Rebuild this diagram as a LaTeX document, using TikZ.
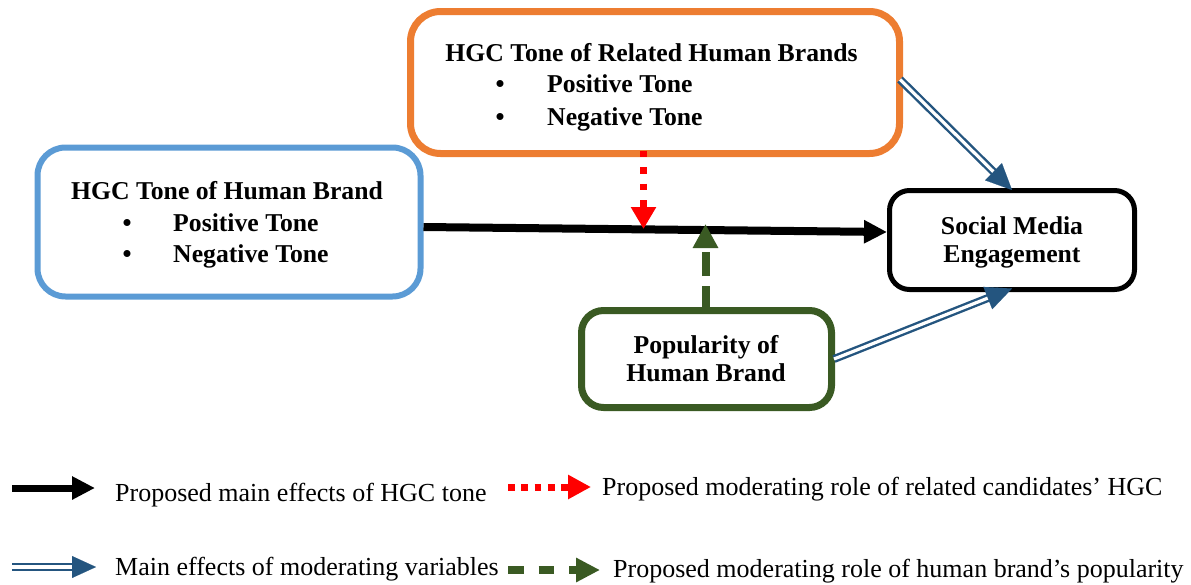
\documentclass[tikz,border=0pt]{standalone}
\usepackage{fontspec}
\setmainfont{Liberation Serif}
\usetikzlibrary{arrows.meta,calc}
\definecolor{cblue}{HTML}{5B9BD5}
\definecolor{corange}{HTML}{ED7D31}
\definecolor{cgreen}{HTML}{3A5A23}
\definecolor{cnavy}{HTML}{24557F}
\begin{document}
\begin{tikzpicture}[x=1pt,y=-1pt,
  box/.style={draw, fill=white, inner sep=0pt},
  hd/.style={inner sep=0pt, font=\bfseries\fontsize{25.7}{31}\selectfont},
  lg/.style={inner sep=0pt, anchor=base west, font=\fontsize{26}{31}\selectfont},
  mainarrow/.style={draw=black, line width=#1, -{Triangle[length=23pt,width=22pt]}},
  reddots/.style={draw=red, line width=7pt, dash pattern=on 6.7pt off 9.8pt, -{Triangle[length=22pt,width=24pt]}},
  greendash/.style={draw=cgreen, line width=8pt, dash pattern=on 24pt off 10pt, -{Triangle[length=24pt,width=24pt]}},
  dblline/.style={draw=cnavy, double=white, double distance=3.2pt, line width=2.4pt},
  navyhead/.style={draw=cnavy, line width=0.1pt, -{Triangle[length=#1,width=24pt]}},
]
\useasboundingbox (0,0) rectangle (1191,584);

% boxes
\node[box, draw=cblue, line width=6pt, rounded corners=28pt, minimum width=383pt, minimum height=149pt] (tone) at (229,222) {};
\node[box, draw=corange, line width=7pt, rounded corners=30pt, minimum width=489pt, minimum height=142pt] (rel) at (655,82.5) {};
\node[box, draw=black, line width=5pt, rounded corners=20pt, minimum width=245pt, minimum height=99pt] (sme) at (1012,240) {};
\node[box, draw=cgreen, line width=7pt, rounded corners=22pt, minimum width=250pt, minimum height=97pt] (pop) at (706.5,359) {};

% texts of the human brand box
\node[hd, anchor=base] (toneH) at (227,199) {HGC Tone of Human Brand};
\node[hd, anchor=base] (toneB1) at (127,231) {•};
\node[hd, anchor=base west] (toneP) at (173,231) {Positive Tone};
\node[hd, anchor=base] (toneB2) at (127,262) {•};
\node[hd, anchor=base west] (toneN) at (173,262) {Negative Tone};

% texts of the related brands box
\node[hd, anchor=base] (relH) at (651.5,61) {HGC Tone of Related Human Brands};
\node[hd, anchor=base] (relB1) at (500,92.5) {•};
\node[hd, anchor=base west] (relP) at (547,92.5) {Positive Tone};
\node[hd, anchor=base] (relB2) at (500,125) {•};
\node[hd, anchor=base west] (relN) at (547,125) {Negative Tone};

% social media engagement
\node[hd, anchor=base] (smeA) at (1012,234) {Social Media};
\node[hd, anchor=base] (smeB) at (1012,262) {Engagement};

% popularity
\node[hd, anchor=base] (popA) at (706,353) {Popularity of};
\node[hd, anchor=base] (popB) at (706,381.5) {Human Brand};

% main effect
\draw[mainarrow=8pt] ($(tone.east)+(0,5)$) -- ($(sme.west)+(0,-8)$);

% moderating arrows
\coordinate (redtip) at (643.5,229);
\draw[reddots] ($(redtip |- rel.south)+(0,-6.3)$) -- (redtip);
\coordinate (greentip) at (705.5,224);
\draw[greendash] ($(greentip |- pop.north)+(0,3)$) -- (greentip);

% double arrows
\coordinate (d1s) at ($(rel.east)+(-3,-3)$);
\coordinate (d1t) at ($(sme.north)+(0,2)$);
\draw[dblline] (d1s) -- ($(d1t)!20pt!(d1s)$);
\draw[navyhead=26pt] ($(d1t)!26pt!(d1s)$) -- (d1t);
\coordinate (d2s) at ($(pop.east)+(-1,0)$);
\coordinate (d2t) at ($(sme.south)+(0,-3.5)$);
\draw[dblline] (d2s) -- ($(d2t)!20pt!(d2s)$);
\draw[navyhead=26pt] ($(d2t)!26pt!(d2s)$) -- (d2t);

% legend
\coordinate (l1a) at (12,488);
\coordinate (l1b) at (95,488);
\draw[mainarrow=7pt] (l1a) -- (l1b);
\node[lg] (l1t) at (115,501.5) {Proposed main effects of HGC tone};

\coordinate (l2a) at (508,487);
\coordinate (l2b) at (591,487);
\draw[draw=red, line width=7pt, dash pattern=on 6.7pt off 6.6pt, -{Triangle[length=23pt,width=23pt]}] (l2a) -- (l2b);
\node[lg] (l2t) at (602,495) {Proposed moderating role of related candidates’ HGC};

\coordinate (l3a) at (12,567);
\coordinate (l3b) at (96,567);
\draw[dblline] (l3a) -- ($(l3b)!20pt!(l3a)$);
\draw[draw=cnavy, line width=0.1pt, -{Triangle[length=24pt,width=22pt]}] ($(l3b)!24pt!(l3a)$) -- (l3b);
\node[lg] (l3t) at (115,575) {Main effects of moderating variables};

\coordinate (l4a) at (508,570);
\coordinate (l4b) at (600,570);
\draw[draw=cgreen, line width=8pt, dash pattern=on 15.5pt off 15pt, -{Triangle[length=24pt,width=23pt]}] (l4a) -- (l4b);
\node[lg] (l4t) at (613,577) {Proposed moderating role of human brand’s popularity};
\end{tikzpicture}
\end{document}
